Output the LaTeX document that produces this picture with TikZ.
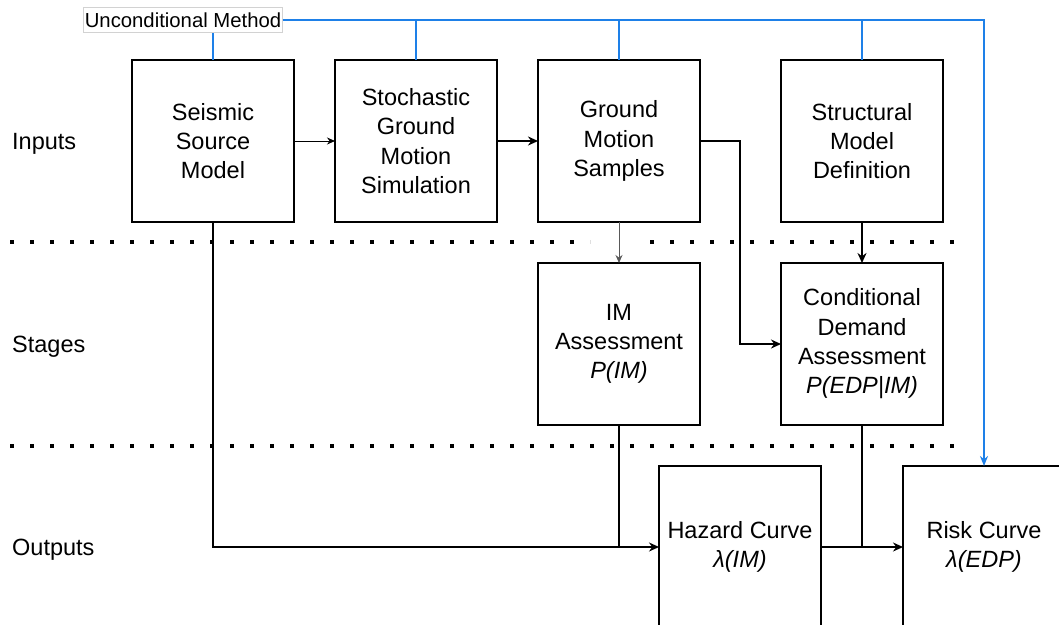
\documentclass[tikz,border=0pt]{standalone}
\usepackage{fontspec}
\setmainfont{Liberation Sans}
\usepackage{xcolor}
\usepackage{tikz}
\usetikzlibrary{positioning,arrows.meta}
\definecolor{pbeeblue}{RGB}{30,128,232}
\tikzset{
    pbeebox/.style={draw, line width=2pt, outer sep=0pt, align=center, minimum width=162pt, minimum height=162pt, inner sep=0pt, font=\fontsize{23.5}{29.3}\selectfont},
    pbeerow/.style={anchor=base west, inner sep=0pt, font=\fontsize{23.5}{29}\selectfont},
    pbeetag/.style={draw=gray!35, line width=0.8pt, fill=white, inner sep=1pt, minimum width=196pt, minimum height=25pt, font=\fontsize{20.3}{21}\selectfont},
    pbeethin/.style={draw, -{Stealth[length=8pt, width=7pt]}, line width=1pt},
    pbeearrow/.style={draw, -{Stealth[length=10pt, width=9pt]}, line width=2pt},
    pbeeline/.style={draw, line width=1.6pt},
    pbeelink/.style={draw=pbeeblue, line width=2pt},
    pbeedots/.style={draw, line width=4pt, dash pattern=on 4pt off 16pt}
}
\begin{document}
\begin{tikzpicture}[x=1pt, y=-1pt]
    \useasboundingbox (0,0) rectangle (1059,624);
    \clip (0,0) rectangle (1059,624);

    \node[pbeebox] (ssm) at (213,141) {Seismic\\Source\\Model};
    \node[pbeebox, right=41pt of ssm] (sgm) {Stochastic\\Ground\\Motion\\Simulation};
    \node[pbeebox, right=41pt of sgm] (gms) {Ground\\Motion\\Samples};
    \node[pbeebox, right=81pt of gms] (smd) {Structural\\Model\\Definition};
    \node[pbeebox, below=41pt of gms] (ima) {IM\\Assessment\\\textit{P(IM)}};
    \node[pbeebox, below=41pt of smd] (cda) {Conditional\\Demand\\Assessment\\\textit{P(EDP|IM)}};
    \node[pbeebox] (haz) at (740,547) {Hazard Curve\\\textit{λ(IM)}};
    \node[pbeebox, right=82pt of haz] (risk) {Risk Curve\\\textit{λ(EDP)}};

    \node[pbeerow] (inputs) at (12,149.5) {Inputs};
    \node[pbeerow] (stages) at (12,352.5) {Stages};
    \node[pbeerow] (outputs) at (12,555.5) {Outputs};

    \draw[pbeedots] (10,242) -- (590,242) (650,242) -- (960,242);
    \draw[pbeedots] (10,446) -- (964,446);

    \node[pbeetag] (uncond) at (183,20) {Unconditional Method};
    \draw[pbeelink, -{Stealth[length=10pt, width=8pt]}] (uncond.east) -| (risk.north);
    \draw[pbeelink] (ssm.north) -- (uncond.south -| ssm.north);
    \foreach \x in {sgm,gms,smd}
        \draw[pbeelink] (\x.north) -- (\x.north |- uncond.east);

    \draw[pbeethin] (ssm) -- (sgm);
    \draw[pbeearrow] (sgm) -- (gms);
    \draw[pbeearrow] (gms.east) -- ++(40,0) |- (cda.west);
    \draw[pbeethin, draw=gray!70!black] (gms) -- (ima);
    \draw[pbeearrow] (smd) -- (cda);
    \draw[pbeearrow] (ssm.south) |- (haz.west);
    \draw[pbeeline] (ima.south) -- (ima.south |- haz.west);
    \draw[pbeearrow] (haz) -- (risk);
    \draw[pbeeline] (cda.south) -- (cda.south |- risk.west);
\end{tikzpicture}
\end{document}
